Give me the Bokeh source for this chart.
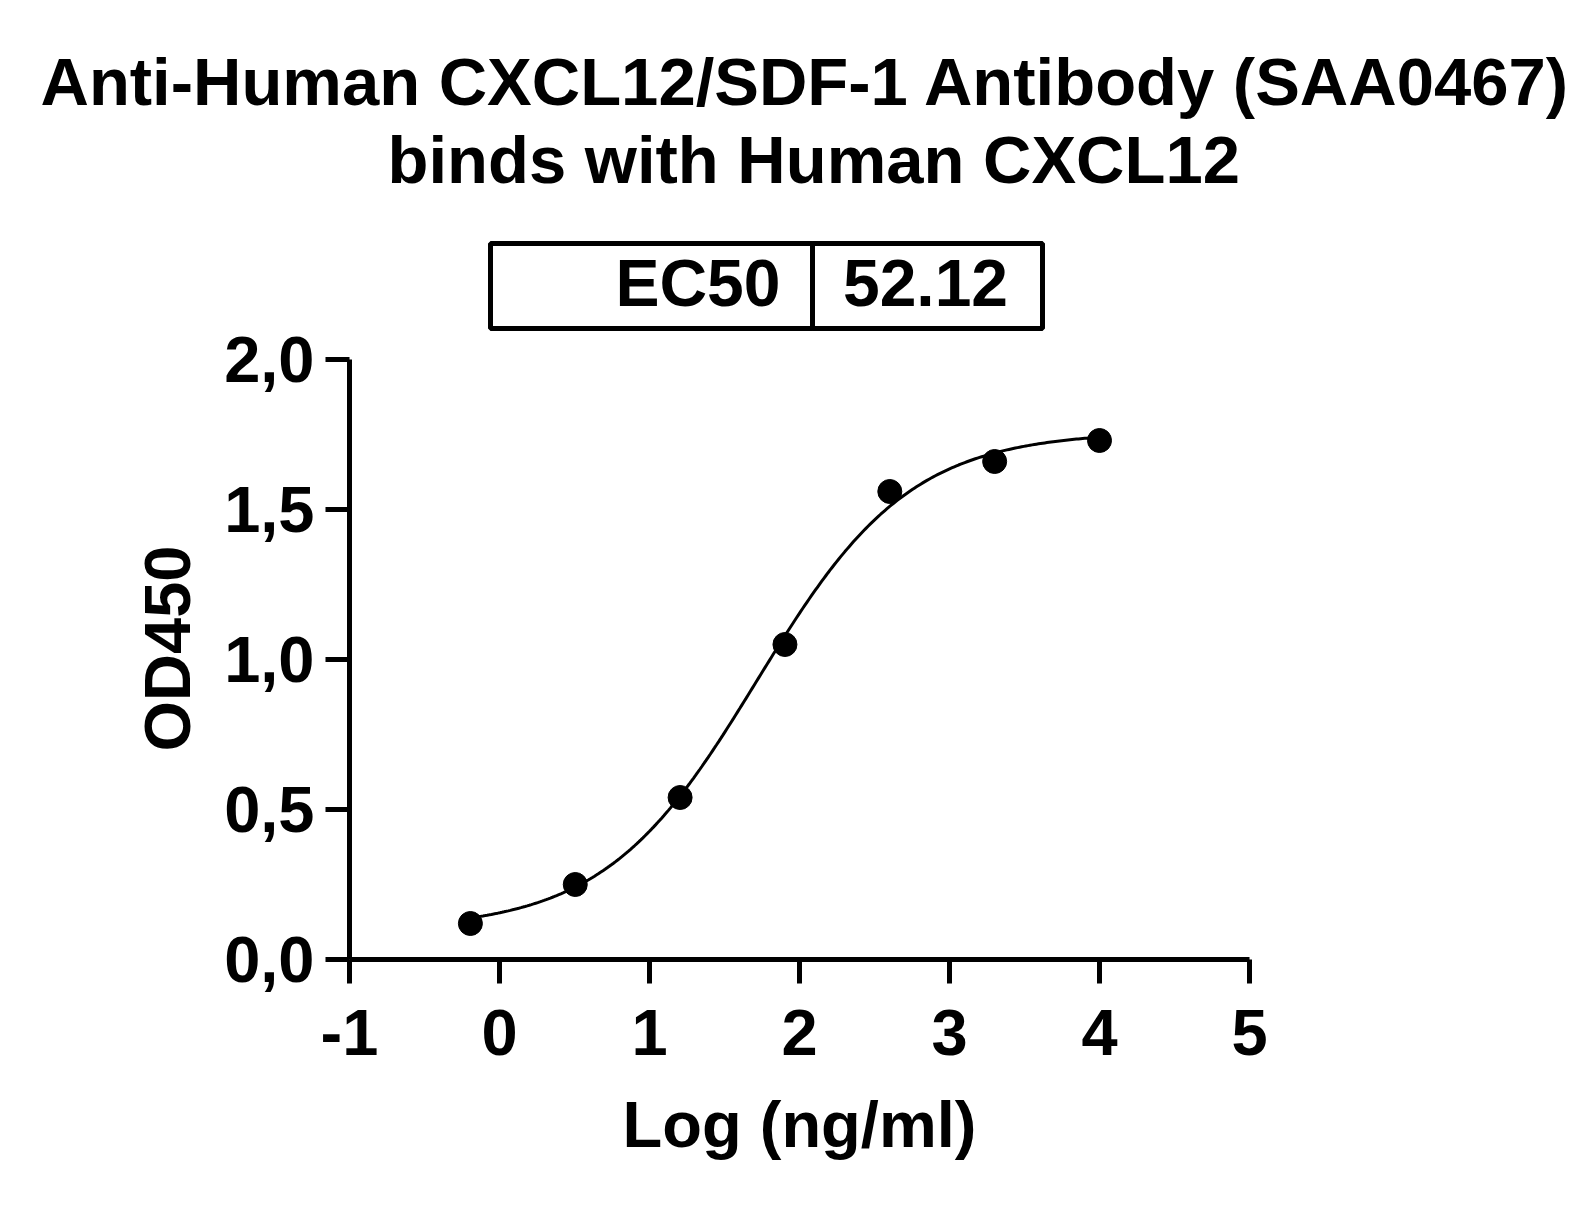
import numpy as np
from bokeh.plotting import figure
from bokeh.models import Range1d, FixedTicker, Title, Label
from bokeh.embed import file_html
from bokeh.resources import INLINE

# ---------------- data ----------------
log_conc = [-0.194, 0.505, 1.204, 1.903, 2.602, 3.301, 4.000]
od450 = [0.12, 0.25, 0.54, 1.05, 1.56, 1.66, 1.73]

# 4PL fit parameters (EC50 as reported on the chart)
fit_bottom = 0.10
fit_top = 1.76
fit_hill = 0.85
ec50 = 52.12

x_ticks = [-1, 0, 1, 2, 3, 4, 5]
x_tick_labels = ["-1", "0", "1", "2", "3", "4", "5"]
y_ticks = [0, 0.5, 1.0, 1.5, 2.0]
y_tick_labels = ["0,0", "0,5", "1,0", "1,5", "2,0"]

title_lines = ["Anti-Human CXCL12/SDF-1 Antibody (SAA0467)", "binds with Human CXCL12"]
table_header = "EC50"
table_value = "52.12"
x_label = "Log (ng/ml)"
y_label = "OD450"

FONT = "Liberation Sans"

# ---------------- layout geometry (page pixels) ----------------
LEFT, RIGHT = 349, 1249      # x = -1 .. 5
TOP, BOTTOM = 197, 959       # frame; y = 0 at 959, 2.0 at 359
PX_PER_X = (RIGHT - LEFT) / 6.0
PX_PER_Y = 300.0

def X(px):
    return -1 + (px - LEFT) / PX_PER_X

def Y(py):
    return (BOTTOM - py) / PX_PER_Y

p = figure(
    frame_width=RIGHT - LEFT, frame_height=BOTTOM - TOP,
    min_border_left=LEFT, min_border_right=336,
    min_border_top=TOP, min_border_bottom=241,
    x_range=Range1d(-1, 5), y_range=Range1d(0, Y(TOP)),
    output_backend="svg", toolbar_location=None,
    background_fill_color="white", border_fill_color="white",
)
p.outline_line_color = None
p.xgrid.visible = False
p.ygrid.visible = False

for ax, ticks, labels, bnds in ((p.xaxis[0], x_ticks, x_tick_labels, (-1, 5)),
                                (p.yaxis[0], y_ticks, y_tick_labels, (0, 2))):
    ax.ticker = FixedTicker(ticks=ticks)
    ax.major_label_overrides = {t: l for t, l in zip(ticks, labels)}
    ax.bounds = bnds
    ax.axis_line_width = 5
    ax.axis_line_color = "black"
    ax.major_tick_line_width = 5
    ax.major_tick_line_color = "black"
    ax.major_tick_out = 24
    ax.major_tick_in = 0
    ax.minor_tick_line_color = None
    ax.major_label_text_font = FONT
    ax.major_label_text_font_style = "bold"
    ax.major_label_text_font_size = "65px"
    ax.major_label_text_color = "black"
    ax.axis_label_text_font = FONT
    ax.axis_label_text_font_style = "bold"
    ax.axis_label_text_font_size = "65px"
    ax.axis_label_text_color = "black"

p.xaxis.axis_label = x_label
p.xaxis.major_label_standoff = 26
p.xaxis.axis_label_standoff = 30
p.yaxis.major_label_standoff = 11

# titles (first added sits closest to the frame)
p.add_layout(Title(text=title_lines[1], align="left", offset=387 - LEFT, standoff=2,
                   text_font=FONT, text_font_style="bold", text_font_size="67px",
                   text_color="black"), "above")
p.add_layout(Title(text=title_lines[0], align="left", offset=40 - LEFT, standoff=0,
                   text_font=FONT, text_font_style="bold", text_font_size="67px",
                   text_color="black"), "above")

# y axis title, placed outside the tick labels, aligned along the axis
p.add_layout(Title(text=y_label, align="left", offset=BOTTOM - 751, standoff=36,
                   text_font=FONT, text_font_style="bold", text_font_size="65px",
                   text_color="black"), "left")

# EC50 table
p.quad(left=[X(490), X(812)], right=[X(812), X(1042)], top=[Y(243)] * 2, bottom=[Y(328)] * 2,
       fill_color=None, line_color="black", line_width=5)
p.add_layout(Label(x=X(780), y=Y(282), text=table_header, text_align="right",
                   text_baseline="middle", text_font=FONT, text_font_style="bold",
                   text_font_size="66px", text_color="black"))
p.add_layout(Label(x=X(925), y=Y(282), text=table_value, text_align="center",
                   text_baseline="middle", text_font=FONT, text_font_style="bold",
                   text_font_size="66px", text_color="black"))

# fitted curve (4PL with the parameters above)
xc = np.linspace(min(log_conc), max(log_conc), 300)
yc = fit_bottom + (fit_top - fit_bottom) / (1 + 10 ** ((np.log10(ec50) - xc) * fit_hill))
p.line(xc, yc, line_color="black", line_width=3)

# data points
p.scatter(log_conc, od450, size=24, fill_color="black", line_color="black", marker="circle")

open("out.html", "w").write(file_html(p, INLINE))
